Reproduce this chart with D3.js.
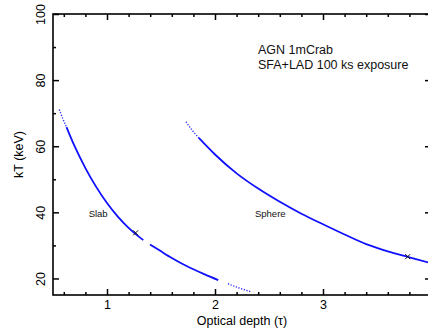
<!DOCTYPE html>
<html>
<head>
<meta charset="utf-8">
<script src="https://cdn.jsdelivr.net/npm/d3@7"></script>
<style>
  html, body { margin: 0; padding: 0; background: #fff; }
  svg { display: block; font-family: "Liberation Sans", Arial, sans-serif; }
</style>
</head>
<body>
<div id="chart"></div>
<script>
// slab curve, split where the plotted curve breaks up
const slabStartTau = [0.558, 0.59, 0.625];
const slabStartKT = [71.1, 68.4, 65.8];
const slabMainTau = [0.625, 0.7, 0.8, 0.9, 1.0, 1.1, 1.2, 1.3, 1.336];
const slabMainKT = [65.8, 60.0, 53.4, 47.7, 42.8, 38.7, 35.3, 32.5, 31.6];
const slabMidTau = [1.398, 1.5, 1.6, 1.7, 1.8, 1.9, 2.03];
const slabMidKT = [30.3, 28.2, 26.2, 24.4, 22.8, 21.3, 19.5];
const slabTailTau = [2.12, 2.2, 2.33];
const slabTailKT = [18.4, 17.4, 16.0];

// sphere curve
const sphereStartTau = [1.731, 1.79, 1.85];
const sphereStartKT = [67.4, 64.8, 62.5];
const sphereMainTau = [1.85, 2.0, 2.2, 2.4, 2.6, 2.8, 3.0, 3.2, 3.4, 3.6, 3.8, 4.0];
const sphereMainKT = [62.5, 57.5, 51.8, 47.2, 43.2, 39.6, 36.4, 33.3, 30.4, 28.2, 26.4, 24.6];

// best-fit markers
const markTau = [1.265, 3.784];
const markKT = [33.8, 26.6];

const curveLabels = ['Slab', 'Sphere'];
const labelTau = [0.83, 2.37];
const labelKT = [38.6, 38.6];

const noteLines = ['AGN 1mCrab', 'SFA+LAD 100 ks exposure'];

const xMajor = [1, 2, 3, 4];
const xLabelled = [1, 2, 3];
const xMinor = [0.6, 0.8, 1.2, 1.4, 1.6, 1.8, 2.2, 2.4, 2.6, 2.8, 3.2, 3.4, 3.6, 3.8];
const yMajor = [20, 40, 60, 80, 100];
const yMinor = [30, 50, 70, 90];

const width = 428;
const height = 329;
const margin = {
  top: 14, right: -3, bottom: 34, left: 53,
};

const svg = d3.select('#chart')
  .append('svg')
  .attr('width', width)
  .attr('height', height);

const x = d3.scaleLinear()
  .domain([0.5, 4])
  .range([margin.left, width - margin.right]);

const y = d3.scaleLinear()
  .domain([15, 100])
  .range([height - margin.bottom, margin.top]);

const pairs = (a, b) => a.map((v, i) => [v, b[i]]);

const line = d3.line()
  .x((d) => x(d[0]))
  .y((d) => y(d[1]))
  .curve(d3.curveMonotoneX);

const plot = svg.append('g');

const solidParts = [
  pairs(slabMainTau, slabMainKT),
  pairs(slabMidTau, slabMidKT),
  pairs(sphereMainTau, sphereMainKT),
];
const sparseParts = [
  pairs(slabStartTau, slabStartKT),
  pairs(slabTailTau, slabTailKT),
  pairs(sphereStartTau, sphereStartKT),
];

plot.selectAll('path.solid')
  .data(solidParts)
  .join('path')
  .attr('class', 'solid')
  .attr('d', line)
  .attr('fill', 'none')
  .attr('stroke', '#1010ff')
  .attr('stroke-width', 1.8);

plot.selectAll('path.sparse')
  .data(sparseParts)
  .join('path')
  .attr('class', 'sparse')
  .attr('d', line)
  .attr('fill', 'none')
  .attr('stroke', '#2a2aff')
  .attr('stroke-width', 1.4)
  .attr('stroke-dasharray', '1.2 1.6');

// x markers
const marks = pairs(markTau, markKT);
plot.selectAll('path.mark')
  .data(marks)
  .join('path')
  .attr('class', 'mark')
  .attr('d', (d) => {
    const cx = x(d[0]);
    const cy = y(d[1]);
    const s = 2.5;
    return `M${cx - s},${cy - s}L${cx + s},${cy + s}M${cx - s},${cy + s}L${cx + s},${cy - s}`;
  })
  .attr('stroke', '#111')
  .attr('stroke-width', 1);

// axes, all ticks point inward
const axisStyle = (g) => {
  g.select('.domain').remove();
  g.selectAll('line').attr('stroke', '#000').attr('stroke-width', 1.5);
};

svg.append('g')
  .attr('transform', `translate(0,${y(15)})`)
  .call(d3.axisBottom(x).tickValues(xMajor).tickSizeInner(-6).tickSizeOuter(0)
    .tickPadding(5).tickFormat((d) => (xLabelled.includes(d) ? d3.format('d')(d) : '')))
  .call(axisStyle)
  .call((g) => g.selectAll('text')
    .attr('fill', '#000')
    .style('font-size', '12.5px')
    .style('font-family', '"Liberation Sans", Arial, sans-serif'));

svg.append('g')
  .attr('transform', `translate(0,${y(15)})`)
  .call(d3.axisBottom(x).tickValues(xMinor).tickSizeInner(-3).tickSizeOuter(0)
    .tickFormat(''))
  .call(axisStyle);

svg.append('g')
  .attr('transform', `translate(0,${y(100)})`)
  .call(d3.axisTop(x).tickValues(xMajor).tickSizeInner(-6).tickSizeOuter(0)
    .tickFormat(''))
  .call(axisStyle);

svg.append('g')
  .attr('transform', `translate(0,${y(100)})`)
  .call(d3.axisTop(x).tickValues(xMinor).tickSizeInner(-3).tickSizeOuter(0)
    .tickFormat(''))
  .call(axisStyle);

svg.append('g')
  .attr('transform', `translate(${x(0.5)},0)`)
  .call(d3.axisLeft(y).tickValues(yMajor).tickSizeInner(-6).tickSizeOuter(0)
    .tickFormat(d3.format('d')))
  .call(axisStyle)
  .call((g) => g.selectAll('text')
    .attr('x', null)
    .attr('dy', null)
    .attr('transform', 'translate(-8,0) rotate(-90)')
    .attr('text-anchor', 'middle')
    .attr('fill', '#000')
    .style('font-size', '12.5px')
    .style('font-family', '"Liberation Sans", Arial, sans-serif'));

svg.append('g')
  .attr('transform', `translate(${x(0.5)},0)`)
  .call(d3.axisLeft(y).tickValues(yMinor).tickSizeInner(-3).tickSizeOuter(0)
    .tickFormat(''))
  .call(axisStyle);

svg.append('g')
  .attr('transform', `translate(${x(4)},0)`)
  .call(d3.axisRight(y).tickValues(yMajor).tickSizeInner(-6).tickSizeOuter(0)
    .tickFormat(''))
  .call(axisStyle);

svg.append('g')
  .attr('transform', `translate(${x(4)},0)`)
  .call(d3.axisRight(y).tickValues(yMinor).tickSizeInner(-3).tickSizeOuter(0)
    .tickFormat(''))
  .call(axisStyle);

// frame
svg.append('rect')
  .attr('x', x(0.5))
  .attr('y', y(100))
  .attr('width', x(4) - x(0.5))
  .attr('height', y(15) - y(100))
  .attr('fill', 'none')
  .attr('stroke', '#000')
  .attr('stroke-width', 1.6);

// axis titles
svg.append('text')
  .attr('x', (x(0.5) + x(4)) / 2)
  .attr('y', 324.5)
  .attr('text-anchor', 'middle')
  .style('font-size', '12.5px')
  .text('Optical depth (τ)');

svg.append('text')
  .attr('transform', `translate(22.5,${(y(15) + y(100)) / 2}) rotate(-90)`)
  .attr('text-anchor', 'middle')
  .style('font-size', '12.5px')
  .text('kT (keV)');

// curve labels
svg.append('g')
  .selectAll('text')
  .data(curveLabels)
  .join('text')
  .attr('x', (d, i) => x(labelTau[i]))
  .attr('y', (d, i) => y(labelKT[i]))
  .style('font-size', '9.5px')
  .attr('fill', '#111')
  .text((d) => d);

// note
svg.append('g')
  .selectAll('text')
  .data(noteLines)
  .join('text')
  .attr('x', 258)
  .attr('y', (d, i) => 54 + i * 15)
  .style('font-size', '12.5px')
  .attr('fill', '#111')
  .text((d) => d);
</script>
</body>
</html>
